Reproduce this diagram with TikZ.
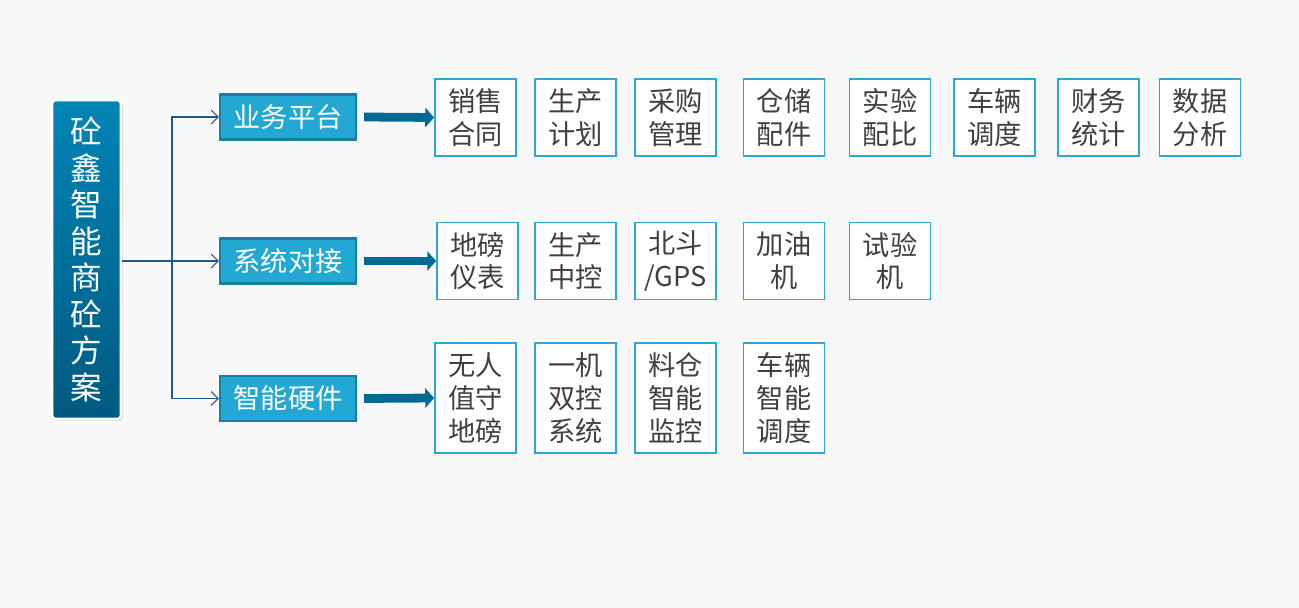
\documentclass[tikz,border=0pt]{standalone}
\usepackage{fontspec}
\newfontfamily\cjk{Noto Sans CJK SC}
\usetikzlibrary{arrows.meta,shadows}

\definecolor{bgcol}{HTML}{F8F8F8}
\definecolor{maintop}{HTML}{0284B6}
\definecolor{mainbot}{HTML}{005A80}
\definecolor{catfill}{HTML}{22A8D2}
\definecolor{catline}{HTML}{187EA2}
\definecolor{itemline}{HTML}{2AA7D5}
\definecolor{linkcol}{HTML}{1F5A8A}
\definecolor{bigarrow}{HTML}{006A94}
\definecolor{txtcol}{HTML}{404040}

\tikzset{
  cat/.style={draw=catline,line width=1.2pt,fill=catfill,text=white,
    minimum width=2.72cm,minimum height=0.9cm,inner sep=0pt,
    font=\cjk\fontsize{15.5}{18}\selectfont},
  item/.style={draw=itemline,line width=1.1pt,fill=white,text=txtcol,
    minimum width=1.62cm,inner sep=0pt,align=center,
    font=\cjk\fontsize{15.5}{18.6}\selectfont},
  link/.style={draw=linkcol,line width=0.6pt,-{Straight Barb[length=4pt,width=8pt]}},
  feed/.style={draw=bigarrow,line width=5pt,-{Triangle[length=5pt,width=11pt]}}
}

\begin{document}
\begin{tikzpicture}[x=0.02cm,y=-0.02cm]
\useasboundingbox[fill=bgcol] (0,0) rectangle (1299,608);

\node[draw=white,line width=1.5pt,rounded corners=2pt,top color=maintop,bottom color=mainbot,
  drop shadow={opacity=0.35,shadow xshift=1pt,shadow yshift=-1pt},
  minimum width=1.38cm,minimum height=6.38cm,inner sep=0pt,text=white,align=center,
  font=\cjk\fontsize{18}{20.8}\selectfont] (main) at (86.5,259.5)
  {砼\\鑫\\智\\能\\商\\砼\\方\\案};

\node[cat] (biz) at (288,117) {业务平台};
\node[cat] (sys) at (288,261) {系统对接};
\node[cat] (hw) at (288,398.5) {智能硬件};

% connectors from the main box
\coordinate (split) at (172,261);
\draw[linkcol,line width=0.6pt] (main.east |- split) -- (split);
\draw[link] (split) |- (biz.west);
\draw[link] (split) -- (sys.west);
\draw[link] (split) |- (hw.west);

% first row
\foreach \x/\t [count=\i] in {475.5/{销售\\合同},575.5/{生产\\计划},675.5/{采购\\管理},784/{仓储\\配件},
    890/{实验\\配比},994.5/{车辆\\调度},1098.5/{财务\\统计},1200/{数据\\分析}}
  \node[item,minimum height=1.54cm] (a\i) at (\x,117.5) {\t};

% second row
\foreach \x/\t [count=\i] in {477.5/{地磅\\仪表},575.5/{生产\\中控},675.5/{北斗\\/GPS},784/{加油\\机},890/{试验\\机}}
  \node[item,minimum height=1.54cm] (b\i) at (\x,261) {\t};

% third row
\foreach \x/\t [count=\i] in {475.5/{无人\\值守\\地磅},575.5/{一机\\双控\\系统},675.5/{料仓\\智能\\监控},784/{车辆\\智能\\调度}}
  \node[item,minimum height=2.2cm] (c\i) at (\x,398) {\t};

\draw[feed] ([xshift=4]biz.east) -- (a1.west);
\draw[feed] ([xshift=4]sys.east) -- (b1.west);
\draw[feed] ([xshift=4]hw.east) -- (c1.west);
\end{tikzpicture}
\end{document}
